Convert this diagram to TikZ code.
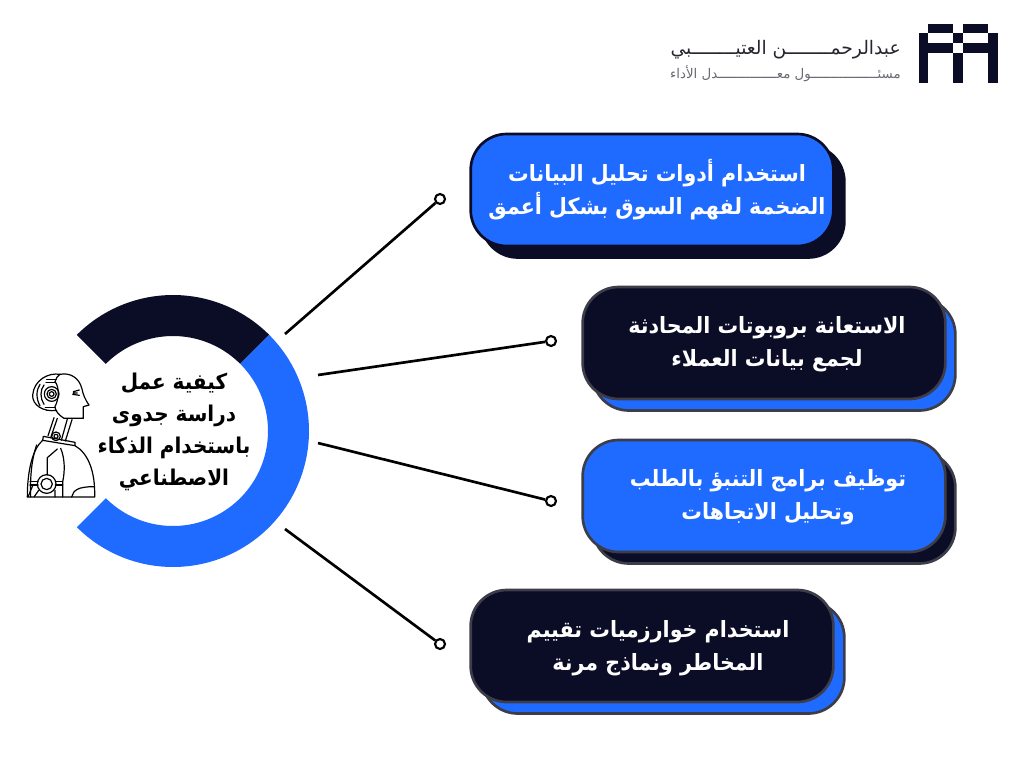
\documentclass[tikz,border=0pt]{standalone}
\usepackage{fontspec}
\setmainfont{DejaVu Sans}
\newfontfamily\arb[Script=Arabic]{DejaVu Sans}
\newfontfamily\arbn[Script=Arabic,FakeStretch=0.92]{DejaVu Sans}
\TeXXeTstate=1
\definecolor{navy}{HTML}{0B0C26}
\definecolor{brand}{HTML}{1F6BFF}
\definecolor{edgeg}{HTML}{3C3D48}
\definecolor{logotxt}{HTML}{26262F}
\definecolor{logosub}{HTML}{6A6A72}
\tikzset{
  cardbox/.style={rectangle,rounded corners=27pt,line width=2pt,minimum width=272pt,minimum height=84pt,inner sep=0pt},
  cardtxt/.style={font=\arbn\bfseries\fontsize{16.8}{24.6}\selectfont,align=center,inner sep=0pt,text=white},
  hubtxt/.style={font=\arbn\bfseries\fontsize{16.3}{24}\selectfont,align=center,text=black,inner sep=0pt},
  spoke/.style={line width=2pt,draw=black},
  tipdot/.style={circle,draw=black,fill=white,line width=1.6pt,minimum size=7.5pt,inner sep=0pt},
  robo/.style={line width=0.9pt,draw=black,line join=round,line cap=round},
  logobar/.style={fill=navy,draw=none}
}
\begin{document}
\begin{tikzpicture}[x=0.75pt,y=-0.75pt]
\useasboundingbox (0,0) rectangle (1024,768);
\fill[white] (0,0) rectangle (1024,768);
% ring
\fill[navy] plot[domain=45:135,samples=50] ({173+136*cos(\x)},{431-136*sin(\x)})
  -- plot[domain=135:45,samples=50] ({173+95*cos(\x)},{431-95*sin(\x)}) -- cycle;
\fill[brand] plot[domain=45:-135,samples=90] ({173+136*cos(\x)},{431-136*sin(\x)})
  -- plot[domain=-135:45,samples=90] ({173+95*cos(\x)},{431-95*sin(\x)}) -- cycle;
\node[hubtxt] (hub) at (174,432) {\beginR كيفية عمل\endR\\\beginR دراسة جدوى\endR\\\beginR باستخدام الذكاء\endR\\\beginR الاصطناعي\endR};
% shadows and cards
\node[cardbox,fill=navy,draw=navy] (s1) at (663,201.5) {};
\node[cardbox,fill=brand,draw=edgeg] (s2) at (774,354.5) {};
\node[cardbox,fill=navy,draw=edgeg] (s3) at (774,507.5) {};
\node[cardbox,fill=brand,draw=edgeg] (s4) at (663,657.5) {};
\node[cardbox,fill=brand,draw=navy] (c1) at (652,190) {};
\node[cardbox,fill=navy,draw=edgeg] (c2) at (764,343) {};
\node[cardbox,fill=brand,draw=edgeg] (c3) at (764,496) {};
\node[cardbox,fill=navy,draw=edgeg] (c4) at (652,646) {};
\node[cardtxt] (t1) at (657,189.5) {\beginR استخدام أدوات تحليل البيانات\endR\\\beginR الضخمة لفهم السوق بشكل أعمق\endR};
\node[cardtxt] (t2) at (767,344.5) {\beginR الاستعانة بروبوتات المحادثة\endR\\\beginR لجمع بيانات العملاء\endR};
\node[cardtxt] (t3) at (768,497) {\beginR توظيف برامج التنبؤ بالطلب\endR\\\beginR وتحليل الاتجاهات\endR};
\node[cardtxt] (t4) at (658,648.5) {\beginR استخدام خوارزميات تقييم\endR\\\beginR المخاطر ونماذج مرنة\endR};
% connectors
\coordinate (a1) at (285,334);
\coordinate (a2) at (318,375);
\coordinate (a3) at (318,443);
\coordinate (a4) at (285,529);
\node[tipdot] (d1) at (440,199) {};
\node[tipdot] (d2) at (551,341) {};
\node[tipdot] (d3) at (551,501) {};
\node[tipdot] (d4) at (440,644) {};
\draw[spoke] (a1) -- (d1);
\draw[spoke] (a2) -- (d2);
\draw[spoke] (a3) -- (d3);
\draw[spoke] (a4) -- (d4);
% robot
\begin{scope}[shift={(20,365)},x=0.25pt,y=-0.25pt]
\draw[robo] (120,28) .. controls (150,22) and (178,38) .. (186,72) .. controls (189,88) and (196,105) .. (207,120) -- (190,125) -- (190,160) -- (132,160) .. controls (115,150) and (105,135) .. (105,125) .. controls (118,100) and (118,65) .. (105,50) .. controls (108,40) and (113,32) .. (120,28);
\draw[robo] (120,28) .. controls (85,22) and (42,45) .. (38,90) .. controls (36,120) and (70,142) .. (110,136);
\draw[robo] (80,44) -- (108,44) (78,52) -- (105,52) (76,128) -- (106,128) (80,136) -- (108,136);
\draw[robo] (72,60) .. controls (60,75) and (60,100) .. (72,118);
\draw[robo] (60,58) .. controls (48,75) and (48,102) .. (60,122);
\draw[robo] (95,87) circle[radius=22] (95,87) circle[radius=14] (95,87) circle[radius=7];
\draw[robo] (160,80) -- (178,75) (158,88) -- (178,91) (160,84) -- (172,84);
\draw[robo] (102,158) -- (84,212) (112,160) -- (92,218) (142,162) -- (124,226) (156,164) -- (136,228);
\draw[robo] (108,214) circle[radius=13] (108,214) circle[radius=6];
\draw[robo] (70,214) -- (165,232) -- (165,242) -- (68,226) -- cycle;
\draw[robo] (68,226) .. controls (40,250) and (22,310) .. (22,396) -- (224,396) .. controls (226,320) and (205,265) .. (165,242);
\draw[robo] (50,240) .. controls (34,285) and (30,340) .. (32,396);
\draw[robo] (112,252) -- (82,278) -- (82,330);
\draw[robo] (122,250) .. controls (135,280) and (135,320) .. (128,350) -- (128,396);
\draw[robo] (80,357) circle[radius=28] (80,357) circle[radius=17];
\draw[robo] (30,350) -- (54,350) (30,360) -- (54,360) (106,350) -- (128,350) (106,360) -- (128,360);
\draw[robo] (38,362) -- (24,396) (56,376) -- (42,396) (105,376) -- (105,396);
\draw[robo] (155,396) .. controls (160,375) and (175,365) .. (222,365);
\end{scope}
% logo
\fill[logobar] (928.3,24) rectangle (953.3,33.3);
\fill[logobar] (963.3,24) rectangle (988.3,33.3);
\fill[logobar] (919,33.3) rectangle (928.3,82.7);
\fill[logobar] (988.3,33.3) rectangle (998,82.7);
\fill[logobar] (919,43.3) rectangle (953.3,53.3);
\fill[logobar] (963.3,43.3) rectangle (998,53.3);
\fill[logobar] (953.3,33.3) rectangle (963.3,43.3);
\fill[logobar] (953.3,53.3) rectangle (963.3,82.7);
\node[anchor=east,inner sep=0pt,text=logotxt,font=\arb\fontsize{14}{16}\selectfont] (lg1) at (901,50) {\beginR عبدالرحمــــــــن العتيــــــــبي\endR};
\node[anchor=east,inner sep=0pt,text=logosub,font=\arb\fontsize{10}{12}\selectfont] (lg2) at (901,74) {\beginR مسئـــــــــــــــــول معـــــــــــــــدل الأداء\endR};
\end{tikzpicture}
\end{document}
